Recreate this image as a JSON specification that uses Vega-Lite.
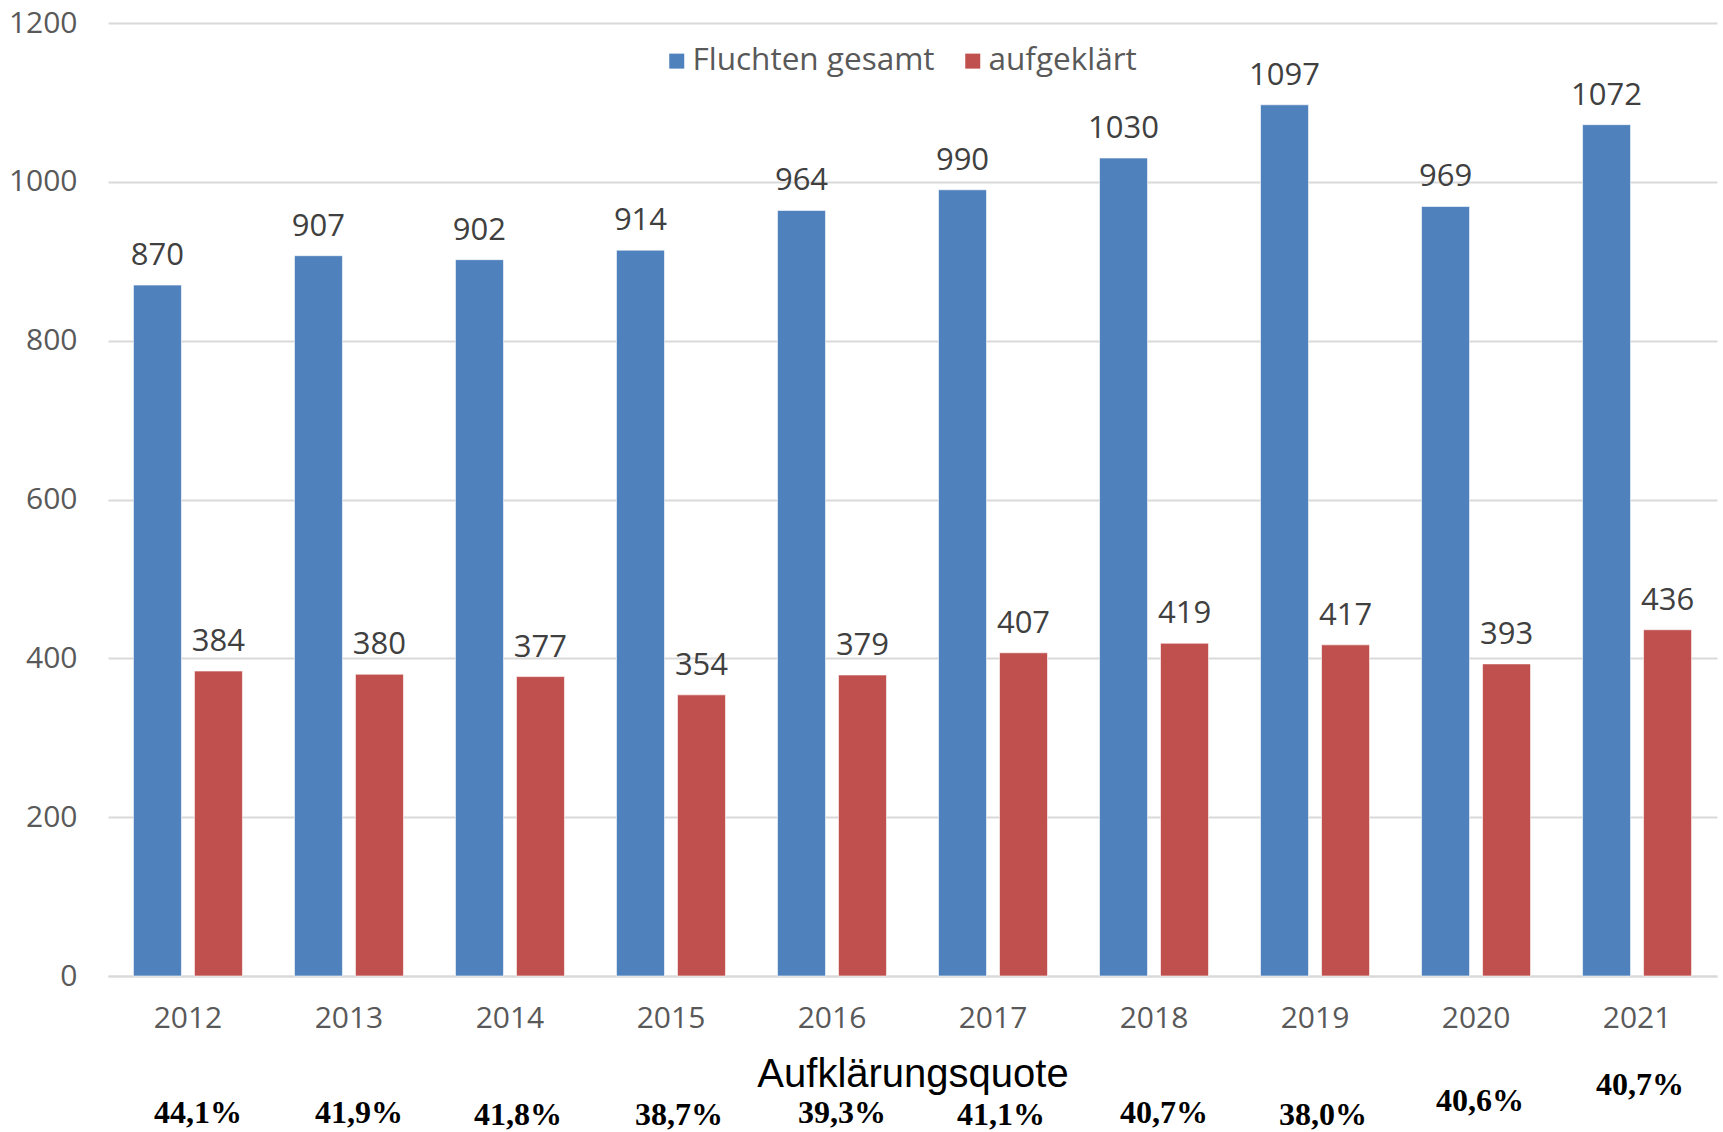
{
  "$schema": "https://vega.github.io/schema/vega-lite/v6.json",
  "width": 1609,
  "height": 953,
  "autosize": {"type": "none"},
  "padding": {"left": 108, "top": 23, "right": 6, "bottom": 156},
  "background": "white",
  "config": {
    "view": {"stroke": null},
    "font": "Open Sans",
    "locale": {"number": {"decimal": ",", "thousands": ".", "grouping": [3], "currency": ["", " €"]}}
  },
  "datasets": {
    "bars": [
      {"Jahr": "2012", "Reihe": "Fluchten gesamt", "Anzahl": 870},
      {"Jahr": "2012", "Reihe": "aufgeklärt", "Anzahl": 384},
      {"Jahr": "2013", "Reihe": "Fluchten gesamt", "Anzahl": 907},
      {"Jahr": "2013", "Reihe": "aufgeklärt", "Anzahl": 380},
      {"Jahr": "2014", "Reihe": "Fluchten gesamt", "Anzahl": 902},
      {"Jahr": "2014", "Reihe": "aufgeklärt", "Anzahl": 377},
      {"Jahr": "2015", "Reihe": "Fluchten gesamt", "Anzahl": 914},
      {"Jahr": "2015", "Reihe": "aufgeklärt", "Anzahl": 354},
      {"Jahr": "2016", "Reihe": "Fluchten gesamt", "Anzahl": 964},
      {"Jahr": "2016", "Reihe": "aufgeklärt", "Anzahl": 379},
      {"Jahr": "2017", "Reihe": "Fluchten gesamt", "Anzahl": 990},
      {"Jahr": "2017", "Reihe": "aufgeklärt", "Anzahl": 407},
      {"Jahr": "2018", "Reihe": "Fluchten gesamt", "Anzahl": 1030},
      {"Jahr": "2018", "Reihe": "aufgeklärt", "Anzahl": 419},
      {"Jahr": "2019", "Reihe": "Fluchten gesamt", "Anzahl": 1097},
      {"Jahr": "2019", "Reihe": "aufgeklärt", "Anzahl": 417},
      {"Jahr": "2020", "Reihe": "Fluchten gesamt", "Anzahl": 969},
      {"Jahr": "2020", "Reihe": "aufgeklärt", "Anzahl": 393},
      {"Jahr": "2021", "Reihe": "Fluchten gesamt", "Anzahl": 1072},
      {"Jahr": "2021", "Reihe": "aufgeklärt", "Anzahl": 436}
    ],
    "quote": [
      {"Jahr": "2012", "Quote": 0.441},
      {"Jahr": "2013", "Quote": 0.419},
      {"Jahr": "2014", "Quote": 0.418},
      {"Jahr": "2015", "Quote": 0.387},
      {"Jahr": "2016", "Quote": 0.393},
      {"Jahr": "2017", "Quote": 0.411},
      {"Jahr": "2018", "Quote": 0.407},
      {"Jahr": "2019", "Quote": 0.380},
      {"Jahr": "2020", "Quote": 0.406},
      {"Jahr": "2021", "Quote": 0.407}
    ]
  },
  "layer": [
    {
      "data": {"name": "bars"},
      "mark": {"type": "bar", "stroke": "white", "strokeWidth": 1, "strokeOpacity": 0.6},
      "encoding": {
        "x": {
          "field": "Jahr", "type": "nominal",
          "scale": {"paddingInner": 0.323, "paddingOuter": 0.158},
          "axis": {
            "title": "Aufklärungsquote",
            "titleFont": "Liberation Sans", "titleFontSize": 40, "titleFontWeight": "normal", "titleColor": "#000000",
            "titlePadding": 21,
            "labelAngle": 0, "labelFont": "Open Sans", "labelFontSize": 30, "labelColor": "#595959",
            "labelPadding": 27, "ticks": false,
            "domainColor": "#d9d9d9", "domainWidth": 2
          }
        },
        "xOffset": {"field": "Reihe", "type": "nominal", "scale": {"domain": ["Fluchten gesamt", "aufgeklärt"], "paddingInner": 0.213}},
        "y": {
          "field": "Anzahl", "type": "quantitative",
          "scale": {"domain": [0, 1200], "nice": false},
          "axis": {
            "title": null, "values": [0, 200, 400, 600, 800, 1000, 1200], "format": "d",
            "domain": false, "ticks": false, "labelPadding": 31,
            "labelFont": "Open Sans", "labelFontSize": 30, "labelColor": "#595959",
            "gridColor": "#d9d9d9", "gridWidth": 2
          }
        },
        "color": {
          "field": "Reihe", "type": "nominal",
          "scale": {"domain": ["Fluchten gesamt", "aufgeklärt"], "range": ["#4F81BD", "#C0504D"]},
          "legend": {
            "orient": "none", "legendX": 553, "legendY": 22, "direction": "horizontal",
            "title": null, "symbolType": "square", "symbolSize": 225, "symbolStrokeWidth": 0,
            "labelFont": "Open Sans", "labelFontSize": 31.5, "labelColor": "#595959", "labelLimit": 0,
            "labelOffset": 0, "columnPadding": 22
          }
        }
      }
    },
    {
      "data": {"name": "bars"},
      "mark": {"type": "text", "baseline": "alphabetic", "dy": -20, "fontSize": 31, "font": "Open Sans", "color": "#404040"},
      "encoding": {
        "x": {"field": "Jahr", "type": "nominal"},
        "xOffset": {"field": "Reihe", "type": "nominal"},
        "y": {"field": "Anzahl", "type": "quantitative"},
        "text": {"field": "Anzahl", "type": "quantitative", "format": "d"}
      }
    },
    {
      "data": {"name": "quote"},
      "transform": [{"filter": {"field": "Jahr", "oneOf": ["2012", "2013", "2016", "2018"]}}],
      "mark": {"type": "text", "baseline": "alphabetic", "dx": 10, "fontSize": 32, "font": "Liberation Serif", "fontWeight": "bold", "color": "#000000"},
      "encoding": {
        "x": {"field": "Jahr", "type": "nominal"},
        "y": {"datum": -185, "type": "quantitative"},
        "text": {"field": "Quote", "type": "quantitative", "format": ".1%"}
      }
    },
    {
      "data": {"name": "quote"},
      "transform": [{"filter": {"field": "Jahr", "oneOf": ["2014", "2015", "2017", "2019"]}}],
      "mark": {"type": "text", "baseline": "alphabetic", "dx": 8, "fontSize": 32, "font": "Liberation Serif", "fontWeight": "bold", "color": "#000000"},
      "encoding": {
        "x": {"field": "Jahr", "type": "nominal"},
        "y": {"datum": -187, "type": "quantitative"},
        "text": {"field": "Quote", "type": "quantitative", "format": ".1%"}
      }
    },
    {
      "data": {"name": "quote"},
      "transform": [{"filter": {"field": "Jahr", "equal": "2020"}}],
      "mark": {"type": "text", "baseline": "alphabetic", "dx": 4, "fontSize": 32, "font": "Liberation Serif", "fontWeight": "bold", "color": "#000000"},
      "encoding": {
        "x": {"field": "Jahr", "type": "nominal"},
        "y": {"datum": -170, "type": "quantitative"},
        "text": {"field": "Quote", "type": "quantitative", "format": ".1%"}
      }
    },
    {
      "data": {"name": "quote"},
      "transform": [{"filter": {"field": "Jahr", "equal": "2021"}}],
      "mark": {"type": "text", "baseline": "alphabetic", "dx": 3, "fontSize": 32, "font": "Liberation Serif", "fontWeight": "bold", "color": "#000000"},
      "encoding": {
        "x": {"field": "Jahr", "type": "nominal"},
        "y": {"datum": -150, "type": "quantitative"},
        "text": {"field": "Quote", "type": "quantitative", "format": ".1%"}
      }
    }
  ]
}
